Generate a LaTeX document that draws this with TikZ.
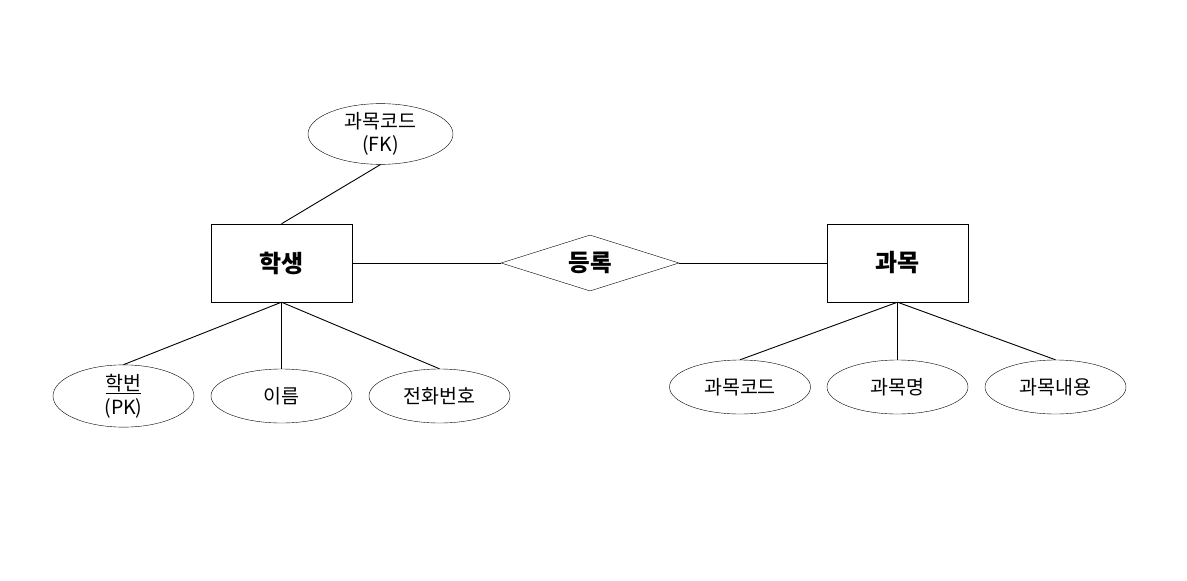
\documentclass[tikz,border=0pt]{standalone}
\usepackage{fontspec}
\setmainfont{Noto Sans CJK KR}
\usetikzlibrary{shapes.geometric}
\begin{document}
\begin{tikzpicture}[x=1pt,y=-1pt,
  every node/.style={font=\fontsize{19.5}{23}\selectfont},
  attr/.style={draw,ellipse,minimum width=141pt,minimum height=54pt,inner sep=0pt,align=center},
  entity/.style={draw,rectangle,minimum width=141pt,minimum height=78pt,inner sep=0pt,font=\fontsize{24}{26}\selectfont\bfseries},
  rel/.style={draw,diamond,minimum width=178pt,minimum height=56pt,inner sep=0pt,aspect=3.18,font=\fontsize{23.5}{26}\selectfont\bfseries},
  conn/.style={draw,line width=0.9pt}]
\useasboundingbox (0,0) rectangle (1187,581);
\node[attr,minimum width=145pt,minimum height=58pt] (fk) at (380.5,134) {과목코드\\(FK)};
\node[entity] (st) at (281.5,263) {학생};
\node[rel] (en) at (590,263) {등록};
\node[entity] (co) at (897.5,263) {과목};
\node[attr] (sid) at (123.5,396) {\underline{학번}\\[1pt](PK)};
\node[attr] (nm) at (281.5,396) {이름};
\node[attr] (ph) at (439.5,396) {전화번호};
\node[attr] (cc) at (740,387) {과목코드};
\node[attr] (cn) at (897.5,387) {과목명};
\node[attr] (cd) at (1055.5,387) {과목내용};
\draw[conn] (fk.south) -- (st.north);
\draw[conn] (st.east) -- (en.west);
\draw[conn] (en.east) -- (co.west);
\draw[conn] (st.south) -- (sid.north);
\draw[conn] (st.south) -- (nm.north);
\draw[conn] (st.south) -- (ph.north);
\draw[conn] (co.south) -- (cc.north);
\draw[conn] (co.south) -- (cn.north);
\draw[conn] (co.south) -- (cd.north);
\end{tikzpicture}
\end{document}
